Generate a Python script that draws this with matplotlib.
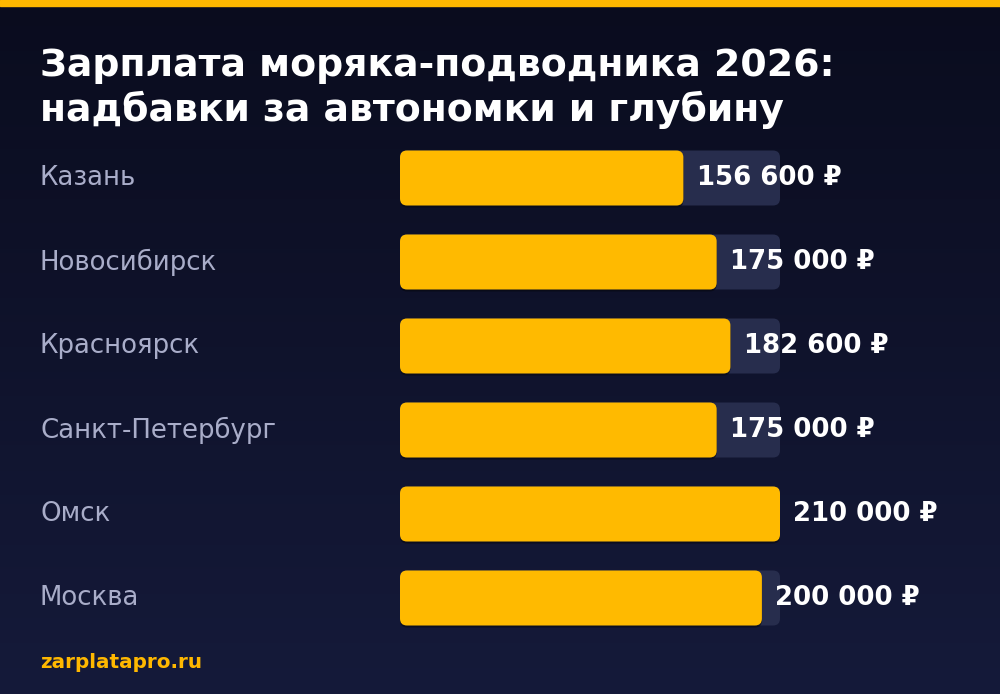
import numpy as np
import matplotlib
matplotlib.use("Agg")
import matplotlib.pyplot as plt
import matplotlib.transforms as mtransforms
from matplotlib.patches import FancyBboxPatch, Rectangle

cities = ["Казань", "Новосибирск", "Красноярск", "Санкт-Петербург", "Омск", "Москва"]
salaries = [156600, 175000, 182600, 175000, 210000, 200000]
value_labels = ["156 600 ₽", "175 000 ₽", "182 600 ₽", "175 000 ₽", "210 000 ₽", "200 000 ₽"]
title_lines = ["Зарплата моряка-подводника 2026:", "надбавки за автономки и глубину"]
source = "zarplatapro.ru"

W, H = 1000, 694
plt.rcParams['font.family'] = ['DejaVu Sans']

fig = plt.figure(figsize=(W / 100, H / 100), dpi=100)

# background gradient
bg = fig.add_axes([0, 0, 1, 1])
bg.set_axis_off()
grad = np.linspace(0, 1, 256).reshape(-1, 1)
top = np.array([10, 12, 30]) / 255
bottom = np.array([21, 26, 58]) / 255
img = top + (bottom - top) * grad[..., None]
bg.imshow(img, aspect='auto', extent=[0, W, H, 0], zorder=0)
bg.set_xlim(0, W)
bg.set_ylim(H, 0)
bg.add_patch(Rectangle((0, 0), W, 6, color="#FFB800", zorder=1))

# title (two lines, placed by baseline) and footer
for line, base in zip(title_lines, [76, 121]):
    fig.text(40 / W, 1 - base / H, line, color="white", fontsize=27.3,
             fontweight="bold", va="baseline", ha="left")
fig.text(40 / W, 1 - 663 / H, source, color="#FFB800", fontsize=14.4, fontweight="bold",
         va="center", ha="left")

# bars
vmax = max(salaries)
x0, x1 = 400, 780
row_h = 84
y_top = 178 - row_h / 2
y_bot = 598 + row_h / 2
ax = fig.add_axes([x0 / W, 1 - y_bot / H, (x1 - x0) / W, (y_bot - y_top) / H])
ax.set_axis_off()
ax.patch.set_alpha(0)
ax.set_xlim(0, vmax)
ax.set_ylim(len(cities) - 0.5, -0.5)

xpp = vmax / (x1 - x0)          # x units per pixel
ypp = 1 / row_h                 # y units per pixel
radius = 7 * xpp
aspect = ypp / xpp
bar_h = 55 / row_h

label_tf = mtransforms.blended_transform_factory(fig.transFigure, ax.transData)

for i, (city, val, lab) in enumerate(zip(cities, salaries, value_labels)):
    track = FancyBboxPatch((0, i - bar_h / 2), vmax, bar_h,
                           boxstyle=f"round,pad=0,rounding_size={radius}",
                           mutation_aspect=aspect, fc="#272d4d", ec="none", zorder=1)
    ax.add_patch(track)
    shadow = FancyBboxPatch((0, i - bar_h / 2 + 2 * ypp), val, bar_h,
                            boxstyle=f"round,pad=0,rounding_size={radius}",
                            mutation_aspect=aspect, fc="#07080f", ec="none",
                            alpha=0.6, zorder=2)
    ax.add_patch(shadow)
    bar = FancyBboxPatch((0, i - bar_h / 2), val, bar_h,
                         boxstyle=f"round,pad=0,rounding_size={radius}",
                         mutation_aspect=aspect, fc="#FFBA00", ec="none", zorder=3)
    ax.add_patch(bar)
    ax.annotate(lab, (val, i), xytext=(9.5, 0), textcoords="offset points",
                color="white", fontsize=18.7, fontweight="bold",
                va="center", ha="left", annotation_clip=False, zorder=4)
    ax.text(40 / W, i, city, transform=label_tf, color="#a9adc9", fontsize=18.7,
            va="center", ha="left")

fig.savefig("out.png", dpi=100)
